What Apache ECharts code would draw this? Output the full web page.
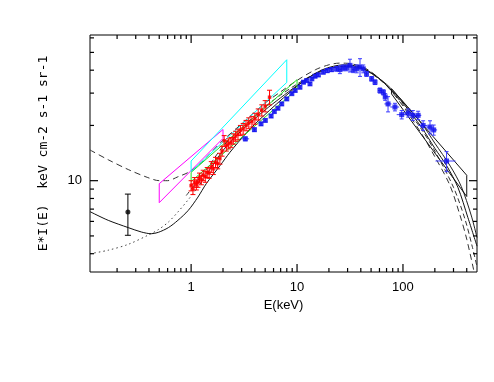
<!DOCTYPE html>
<html>
<head>
<meta charset="utf-8">
<script src="https://cdn.jsdelivr.net/npm/echarts@6/dist/echarts.min.js"></script>
<style>
  html, body { margin: 0; padding: 0; background: #fff; }
  #chart { width: 494px; height: 382px; }
</style>
</head>
<body>
<div id="chart"></div>
<script>
// axis ticks
const xMajor = [1, 10, 100]
const xMinor = [0.2, 0.3, 0.4, 0.5, 0.6, 0.7, 0.8, 0.9, 2, 3, 4, 5, 6, 7, 8, 9, 20, 30, 40, 50, 60, 70, 80, 90, 200, 300, 400]
const yMajor = [10]
const yMinor = [4, 5, 6, 7, 8, 9, 20, 30, 40, 50, 60]

// model curves (E keV, E*I(E))
const solidAE = [0.111, 0.165, 0.255, 0.34, 0.42, 0.49, 0.61, 0.75, 0.94, 1.16, 1.39, 1.88, 2.33, 3.35, 4.81, 8.6, 12, 17, 22, 28, 35, 45, 60, 80, 100, 150, 200, 260, 330, 410, 500]
const solidAI = [6.78, 6.08, 5.55, 5.25, 5.14, 5.23, 5.55, 6.08, 6.89, 8.14, 9.63, 12.1, 14.3, 18.3, 22.5, 30.4, 35.5, 40, 42, 42.8, 42.3, 40.2, 36, 30.5, 26.5, 19.5, 15, 12, 9.2, 6.3, 4.4]

const dottedCE = [0.111, 0.165, 0.255, 0.39, 0.49, 0.61, 0.75, 0.94, 1.16, 1.4]
const dottedCI = [4.0, 4.18, 4.5, 5.04, 5.41, 5.95, 6.75, 7.88, 9.23, 10.8]
const solidCE = [1.4, 2, 3, 5, 7, 10, 14, 20, 25, 30, 40, 50, 70, 100, 150, 200, 280, 355, 440, 500]
const solidCI = [10.8, 14.6, 18.8, 24.3, 28.3, 33, 37.5, 40.8, 41.8, 42, 41, 38.5, 33.5, 27, 20.5, 16, 12, 9.3, 6.5, 4.9]

const dashedBE = [0.111, 0.165, 0.255, 0.39, 0.5, 0.6, 0.75, 0.94, 1.2, 1.5, 2, 3, 5, 7, 10, 15, 20, 25, 30, 40, 50, 70, 100, 150, 200, 276, 345, 400, 480]
const dashedBI = [14.7, 13.0, 11.5, 10.4, 10.0, 10.0, 10.5, 11.1, 12.3, 14, 16.6, 20.4, 26.5, 30.5, 35.2, 40.3, 42.8, 43.7, 43.6, 42, 39.2, 33, 25.5, 18, 13.5, 9.5, 6.5, 4.8, 3.0]

const dashedDE = [0.9, 1.2, 1.5, 2, 3, 5, 7, 10, 15, 20, 25, 30, 40, 50, 70, 100, 150, 200, 300, 384, 450, 500]
const dashedDI = [8.3, 10.3, 12.2, 15.4, 19.4, 25.3, 29.3, 33.6, 38.5, 41, 42, 42.2, 41, 38.5, 33, 26, 19, 14.5, 9.2, 6.2, 4.4, 3.4]

// bowties (corner points, closed)
const magentaE = [0.5, 2, 2, 0.5, 0.5]
const magentaI = [9.63, 19.0, 17.0, 7.59, 9.63]
const cyanE = [1, 8, 8, 1, 1]
const cyanI = [12.8, 45.6, 34.3, 11.2, 12.8]
const greenE = [1, 10, 10, 1, 1]
const greenI = [11.1, 35.5, 31.5, 9.9, 11.1]
const blackBowE = [78, 400, 400, 78, 78]
const blackBowI = [31.7, 10.7, 8.2, 29.7, 31.7]

// red data
const redE = [1.0, 1.04, 1.08, 1.12, 1.16, 1.2, 1.25, 1.3, 1.36, 1.42, 1.48, 1.55, 1.62, 1.7, 1.78, 1.87, 1.96, 2.05, 2.15, 2.26, 2.38, 2.5, 2.63, 2.77, 2.92, 3.1, 3.3, 3.5, 3.75, 4.0, 4.3, 4.65, 5.0, 5.5]
const redI = [9.4, 9.0, 9.8, 9.5, 9.8, 10.4, 10.1, 10.7, 10.5, 11.1, 11.0, 11.9, 11.6, 12.6, 12.4, 13.2, 14.5, 16.5, 15.5, 15.9, 16.2, 16.9, 17.5, 17.9, 18.8, 19.2, 20.0, 20.6, 21.0, 21.8, 23.0, 24.2, 25.5, 28.5]
const redErr = [0.6, 0.6, 0.6, 0.6, 0.6, 0.6, 0.6, 0.7, 0.7, 0.7, 0.7, 0.8, 0.8, 0.8, 0.8, 0.9, 0.9, 1.1, 1.0, 1.0, 1.0, 1.1, 1.1, 1.2, 1.2, 1.3, 1.3, 1.4, 1.4, 1.5, 1.6, 1.7, 1.8, 2.6]
const redEErr = [0.02, 0.02, 0.02, 0.02, 0.02, 0.02, 0.02, 0.03, 0.03, 0.03, 0.03, 0.03, 0.03, 0.03, 0.04, 0.04, 0.04, 0.04, 0.04, 0.05, 0.05, 0.05, 0.05, 0.06, 0.06, 0.06, 0.07, 0.07, 0.08, 0.08, 0.09, 0.1, 0.1, 0.11]

// blue data
const blueE = [3.25, 3.96, 4.57, 5.02, 5.69, 6.1, 6.6, 7.17, 8.0, 8.93, 9.6, 10.65, 11.5, 12.3, 13.25, 13.8, 14.8, 15.9, 17.7, 19.3, 21.2, 23.6, 25.4, 27.3, 29.4, 31.6, 33.9, 36.6, 39.3, 42.2, 45.3, 50.6, 54.5, 60.6, 65.3, 68, 72.3, 84, 97.3, 112, 124, 139, 155, 180, 195, 258]
const blueI = [16.9, 18.96, 20.4, 21.3, 22.5, 23.8, 24.8, 26.2, 27.9, 29.8, 31.0, 32.3, 34.4, 35.1, 33.7, 35.9, 37.1, 37.7, 39.0, 39.8, 40.3, 40.7, 40.3, 41.2, 41.2, 42.5, 40.3, 40.7, 41.6, 40.7, 38.2, 35.9, 34.4, 31, 30.3, 28.6, 26.2, 25.2, 22.9, 23.4, 22.7, 22.7, 20.0, 19.6, 18.9, 12.8]
const blueErr = [0.4, 0.4, 0.4, 0.4, 0.4, 0.4, 0.4, 0.5, 0.5, 0.5, 0.5, 0.6, 0.6, 0.6, 0.6, 0.6, 0.7, 0.8, 0.8, 1.0, 1.0, 1.2, 2.0, 1.5, 1.5, 3.4, 1.5, 2.0, 4.6, 2.0, 1.2, 1.0, 1.0, 1.0, 1.0, 1.2, 2.5, 1.2, 1.2, 1.2, 1.4, 1.2, 1.2, 1.6, 1.2, 1.6]
const blueEErr = [0.28, 0.12, 0.12, 0.12, 0.12, 0.12, 0.15, 0.15, 0.15, 0.2, 0.2, 0.2, 0.25, 0.25, 0.25, 0.3, 0.3, 0.3, 0.4, 0.4, 0.5, 0.5, 0.6, 0.6, 0.7, 2.0, 0.8, 1.0, 1.0, 1.0, 1.5, 1.5, 2.0, 2.5, 2.5, 3.0, 5.5, 8, 10, 12, 14, 10, 15, 15, 15, 55]

// single soft point
const pointE = [0.253]
const pointI = [6.75]
const pointLo = [5.04]
const pointHi = [8.45]

const zip = (xs, ys) => xs.map((x, i) => [x, ys[i]])

const chart = echarts.init(document.getElementById('chart'), null, { renderer: 'canvas' })

const font = 'Liberation Sans'
const X_MIN = 0.111
const X_MAX = 500
const Y_MIN = 3.18
const Y_MAX = 62.2

const option = {
  animation: false,
  backgroundColor: '#fff',
  grid: {
    left: 90,
    right: 17,
    top: 35,
    bottom: 110,
    show: true,
    borderColor: '#000',
    borderWidth: 1,
    backgroundColor: 'transparent'
  },
  xAxis: {
    type: 'log',
    logBase: 10,
    min: X_MIN,
    max: X_MAX,
    axisLine: { show: false },
    splitLine: { show: false },
    axisTick: { show: false },
    axisLabel: { customValues: xMajor, margin: 9, color: '#000', fontFamily: font, fontSize: 13, formatter: v => String(v) },
    name: 'E(keV)',
    nameLocation: 'middle',
    nameGap: 26,
    nameTextStyle: { color: '#000', fontFamily: font, fontSize: 13 }
  },
  yAxis: {
    type: 'log',
    logBase: 10,
    min: Y_MIN,
    max: Y_MAX,
    axisLine: { show: false },
    splitLine: { show: false },
    axisTick: { show: false },
    axisLabel: { customValues: yMajor, margin: 8, color: '#000', fontFamily: font, fontSize: 13, formatter: v => String(v) },
    name: 'E*I(E)  keV cm-2 s-1 sr-1',
    nameLocation: 'middle',
    nameGap: 40,
    nameRotate: 90,
    nameTextStyle: { color: '#000', fontFamily: 'DejaVu Sans Mono', fontSize: 13 }
  },
  series: []
}

const curve = (data, color, type) => ({
  type: 'line',
  data,
  showSymbol: false,
  smooth: 0.3,
  silent: true,
  lineStyle: { color, width: 1, type },
  z: 3
})

const box = (data, color) => ({
  type: 'line',
  data,
  showSymbol: false,
  silent: true,
  lineStyle: { color, width: 1 },
  z: 4
})

// error bars: [E, I, Elo, Ehi, Ilo, Ihi]
const errBars = (data, color, cap) => ({
  type: 'custom',
  data,
  silent: true,
  z: 5,
  encode: { x: 0, y: 1 },
  renderItem: (params, api) => {
    const c = api.coord([api.value(0), api.value(1)])
    const lo = api.coord([api.value(0), api.value(4)])
    const hi = api.coord([api.value(0), api.value(5)])
    const l = api.coord([api.value(2), api.value(1)])
    const r = api.coord([api.value(3), api.value(1)])
    const st = { stroke: color, lineWidth: 1 }
    const kids = [
      { type: 'line', shape: { x1: c[0], y1: lo[1], x2: c[0], y2: hi[1] }, style: st },
      { type: 'line', shape: { x1: l[0], y1: c[1], x2: r[0], y2: c[1] }, style: st }
    ]
    if (cap) {
      kids.push({ type: 'line', shape: { x1: c[0] - cap, y1: lo[1], x2: c[0] + cap, y2: lo[1] }, style: st })
      kids.push({ type: 'line', shape: { x1: c[0] - cap, y1: hi[1], x2: c[0] + cap, y2: hi[1] }, style: st })
    }
    return { type: 'group', children: kids }
  }
})

// tick marks: one item per tick value, [value, tick length, 0 = x axis / 1 = y axis]
const tickMarks = () => ({
  type: 'custom',
  data: [
    ...xMajor.map(v => [v, 10, 8, 0]),
    ...xMinor.map(v => [v, 10, 4, 0]),
    ...yMajor.map(v => [1, v, 8, 1]),
    ...yMinor.map(v => [1, v, 4, 1])
  ],
  silent: true,
  z: 8,
  encode: { x: 0, y: 1 },
  renderItem: (params, api) => {
    const len = api.value(2)
    const st = { stroke: '#000', lineWidth: 1.2 }
    if (api.value(3) === 0) {
      const b = api.coord([api.value(0), Y_MIN])
      const t = api.coord([api.value(0), Y_MAX])
      return {
        type: 'group',
        children: [
          { type: 'line', shape: { x1: b[0], y1: b[1], x2: b[0], y2: b[1] - len }, style: st },
          { type: 'line', shape: { x1: t[0], y1: t[1], x2: t[0], y2: t[1] + len }, style: st }
        ]
      }
    }
    const l = api.coord([X_MIN, api.value(1)])
    const r = api.coord([X_MAX, api.value(1)])
    return {
      type: 'group',
      children: [
        { type: 'line', shape: { x1: l[0], y1: l[1], x2: l[0] + len, y2: l[1] }, style: st },
        { type: 'line', shape: { x1: r[0], y1: r[1], x2: r[0] - len, y2: r[1] }, style: st }
      ]
    }
  }
})

const redBars = redE.map((e, i) => [e, redI[i], e - redEErr[i], e + redEErr[i], redI[i] - redErr[i], redI[i] + redErr[i]])
const blueBars = blueE.map((e, i) => [e, blueI[i], e - blueEErr[i], e + blueEErr[i], blueI[i] - blueErr[i], blueI[i] + blueErr[i]])
const pointBars = pointE.map((e, i) => [e, pointI[i], e, e, pointLo[i], pointHi[i]])

option.series = [
  curve(zip(dottedCE, dottedCI), '#444', [1.5, 3]),
  curve(zip(solidCE, solidCI), '#222', 'solid'),
  curve(zip(dashedDE, dashedDI), '#333', [5, 3]),
  curve(zip(dashedBE, dashedBI), '#333', [6, 4]),
  curve(zip(solidAE, solidAI), '#111', 'solid'),
  box(zip(magentaE, magentaI), '#ff00ff'),
  box(zip(cyanE, cyanI), '#00ffff'),
  box(zip(greenE, greenI), '#22dd22'),
  box(zip(blackBowE, blackBowI), '#111'),
  errBars(blueBars, '#3a3aff', 2),
  {
    type: 'scatter',
    data: zip(blueE, blueI),
    symbol: 'rect',
    symbolSize: 5,
    silent: true,
    itemStyle: { color: '#1010ee' },
    z: 6
  },
  errBars(redBars, '#ff0000', 2.5),
  {
    type: 'scatter',
    data: zip(redE, redI),
    symbol: 'rect',
    symbolSize: 3.5,
    silent: true,
    itemStyle: { color: '#ff0000' },
    z: 7
  },
  errBars(pointBars, '#000', 3),
  {
    type: 'scatter',
    data: zip(pointE, pointI),
    symbol: 'circle',
    symbolSize: 5,
    silent: true,
    itemStyle: { color: '#000' },
    z: 7
  },
  tickMarks()
]

chart.setOption(option)
</script>
</body>
</html>
